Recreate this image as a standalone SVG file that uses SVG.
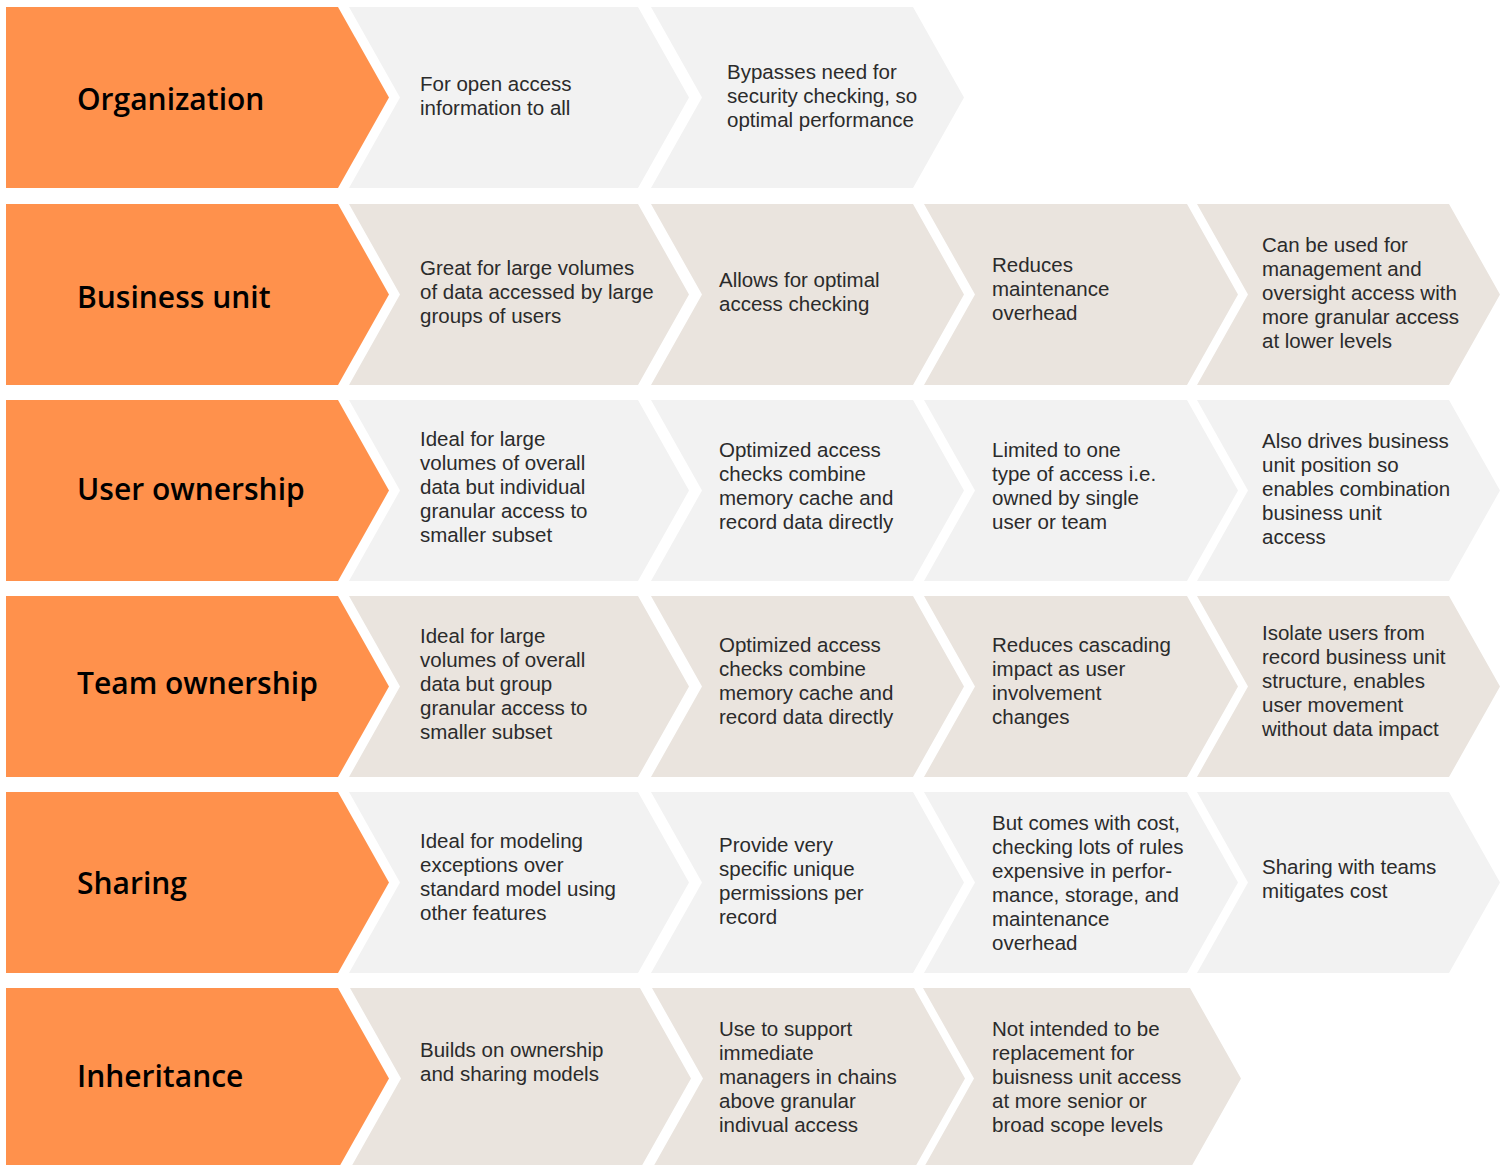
<svg xmlns="http://www.w3.org/2000/svg" width="1504" height="1165" viewBox="0 0 1504 1165">
<style>
.bg{fill:#ffffff}
.org{fill:#FF914C}
.lt{fill:#F2F2F2}
.bz{fill:#EAE4DE}
.lab{font-family:"Open Sans","Noto Sans",sans-serif;font-size:30px;font-weight:600;fill:#000}
.txt{font-family:"Liberation Sans",Arial,sans-serif;font-size:20.5px;fill:#2b2b2b}
</style>
<rect class="bg" x="0" y="0" width="1504" height="1165"/>

<!-- Row 1: Organization -->
<g id="organization"><polygon class="org" points="6,7 338,7 389,97.5 338,188 6,188"/><text class="lab" x="77" y="110">Organization</text></g>
<g id="organization-1"><polygon class="lt" points="349,7 638,7 689,97.5 638,188 349,188 400,97.5"/><text class="txt" y="91"><tspan x="420">For open access</tspan><tspan x="420" dy="24">information to all</tspan></text></g>
<g id="organization-2"><polygon class="lt" points="651,7 913,7 964,97.5 913,188 651,188 702,97.5"/><text class="txt" y="79"><tspan x="727">Bypasses need for</tspan><tspan x="727" dy="24">security checking, so</tspan><tspan x="727" dy="24">optimal performance</tspan></text></g>

<!-- Row 2: Business unit -->
<g id="business-unit"><polygon class="org" points="6,204 338,204 389,294.5 338,385 6,385"/><text class="lab" x="77" y="308">Business unit</text></g>
<g id="business-unit-1"><polygon class="bz" points="349,204 638,204 689,294.5 638,385 349,385 400,294.5"/><text class="txt" y="275"><tspan x="420">Great for large volumes</tspan><tspan x="420" dy="24">of data accessed by large</tspan><tspan x="420" dy="24">groups of users</tspan></text></g>
<g id="business-unit-2"><polygon class="bz" points="651,204 913,204 964,294.5 913,385 651,385 702,294.5"/><text class="txt" y="287"><tspan x="719">Allows for optimal</tspan><tspan x="719" dy="24">access checking</tspan></text></g>
<g id="business-unit-3"><polygon class="bz" points="924,204 1187,204 1238,294.5 1187,385 924,385 975,294.5"/><text class="txt" y="272"><tspan x="992">Reduces</tspan><tspan x="992" dy="24">maintenance</tspan><tspan x="992" dy="24">overhead</tspan></text></g>
<g id="business-unit-4"><polygon class="bz" points="1197,204 1449,204 1500,294.5 1449,385 1197,385 1248,294.5"/><text class="txt" y="252"><tspan x="1262">Can be used for</tspan><tspan x="1262" dy="24">management and</tspan><tspan x="1262" dy="24">oversight access with</tspan><tspan x="1262" dy="24">more granular access</tspan><tspan x="1262" dy="24">at lower levels</tspan></text></g>

<!-- Row 3: User ownership -->
<g id="user-ownership"><polygon class="org" points="6,400 338,400 389,490.5 338,581 6,581"/><text class="lab" x="77" y="500">User ownership</text></g>
<g id="user-ownership-1"><polygon class="lt" points="349,400 638,400 689,490.5 638,581 349,581 400,490.5"/><text class="txt" y="446"><tspan x="420">Ideal for large</tspan><tspan x="420" dy="24">volumes of overall</tspan><tspan x="420" dy="24">data but individual</tspan><tspan x="420" dy="24">granular access to</tspan><tspan x="420" dy="24">smaller subset</tspan></text></g>
<g id="user-ownership-2"><polygon class="lt" points="651,400 913,400 964,490.5 913,581 651,581 702,490.5"/><text class="txt" y="457"><tspan x="719">Optimized access</tspan><tspan x="719" dy="24">checks combine</tspan><tspan x="719" dy="24">memory cache and</tspan><tspan x="719" dy="24">record data directly</tspan></text></g>
<g id="user-ownership-3"><polygon class="lt" points="924,400 1187,400 1238,490.5 1187,581 924,581 975,490.5"/><text class="txt" y="457"><tspan x="992">Limited to one</tspan><tspan x="992" dy="24">type of access i.e.</tspan><tspan x="992" dy="24">owned by single</tspan><tspan x="992" dy="24">user or team</tspan></text></g>
<g id="user-ownership-4"><polygon class="lt" points="1197,400 1449,400 1500,490.5 1449,581 1197,581 1248,490.5"/><text class="txt" y="448"><tspan x="1262">Also drives business</tspan><tspan x="1262" dy="24">unit position so</tspan><tspan x="1262" dy="24">enables combination</tspan><tspan x="1262" dy="24">business unit</tspan><tspan x="1262" dy="24">access</tspan></text></g>

<!-- Row 4: Team ownership -->
<g id="team-ownership"><polygon class="org" points="6,596 338,596 389,686.5 338,777 6,777"/><text class="lab" x="77" y="694">Team ownership</text></g>
<g id="team-ownership-1"><polygon class="bz" points="349,596 638,596 689,686.5 638,777 349,777 400,686.5"/><text class="txt" y="643"><tspan x="420">Ideal for large</tspan><tspan x="420" dy="24">volumes of overall</tspan><tspan x="420" dy="24">data but group</tspan><tspan x="420" dy="24">granular access to</tspan><tspan x="420" dy="24">smaller subset</tspan></text></g>
<g id="team-ownership-2"><polygon class="bz" points="651,596 913,596 964,686.5 913,777 651,777 702,686.5"/><text class="txt" y="652"><tspan x="719">Optimized access</tspan><tspan x="719" dy="24">checks combine</tspan><tspan x="719" dy="24">memory cache and</tspan><tspan x="719" dy="24">record data directly</tspan></text></g>
<g id="team-ownership-3"><polygon class="bz" points="924,596 1187,596 1238,686.5 1187,777 924,777 975,686.5"/><text class="txt" y="652"><tspan x="992">Reduces cascading</tspan><tspan x="992" dy="24">impact as user</tspan><tspan x="992" dy="24">involvement</tspan><tspan x="992" dy="24">changes</tspan></text></g>
<g id="team-ownership-4"><polygon class="bz" points="1197,596 1449,596 1500,686.5 1449,777 1197,777 1248,686.5"/><text class="txt" y="640"><tspan x="1262">Isolate users from</tspan><tspan x="1262" dy="24">record business unit</tspan><tspan x="1262" dy="24">structure, enables</tspan><tspan x="1262" dy="24">user movement</tspan><tspan x="1262" dy="24">without data impact</tspan></text></g>

<!-- Row 5: Sharing -->
<g id="sharing"><polygon class="org" points="6,792 338,792 389,882.5 338,973 6,973"/><text class="lab" x="77" y="894">Sharing</text></g>
<g id="sharing-1"><polygon class="lt" points="349,792 638,792 689,882.5 638,973 349,973 400,882.5"/><text class="txt" y="848"><tspan x="420">Ideal for modeling</tspan><tspan x="420" dy="24">exceptions over</tspan><tspan x="420" dy="24">standard model using</tspan><tspan x="420" dy="24">other features</tspan></text></g>
<g id="sharing-2"><polygon class="lt" points="651,792 913,792 964,882.5 913,973 651,973 702,882.5"/><text class="txt" y="852"><tspan x="719">Provide very</tspan><tspan x="719" dy="24">specific unique</tspan><tspan x="719" dy="24">permissions per</tspan><tspan x="719" dy="24">record</tspan></text></g>
<g id="sharing-3"><polygon class="lt" points="924,792 1187,792 1238,882.5 1187,973 924,973 975,882.5"/><text class="txt" y="830"><tspan x="992">But comes with cost,</tspan><tspan x="992" dy="24">checking lots of rules</tspan><tspan x="992" dy="24">expensive in perfor-</tspan><tspan x="992" dy="24">mance, storage, and</tspan><tspan x="992" dy="24">maintenance</tspan><tspan x="992" dy="24">overhead</tspan></text></g>
<g id="sharing-4"><polygon class="lt" points="1197,792 1449,792 1500,882.5 1449,973 1197,973 1248,882.5"/><text class="txt" y="874"><tspan x="1262">Sharing with teams</tspan><tspan x="1262" dy="24">mitigates cost</tspan></text></g>

<!-- Row 6: Inheritance -->
<g id="inheritance"><polygon class="org" points="6,988 338,988 389,1078.5 338,1169 6,1169"/><text class="lab" x="77" y="1087">Inheritance</text></g>
<g id="inheritance-1"><polygon class="bz" points="350,988 640,988 691,1078.5 640,1169 350,1169 401,1078.5"/><text class="txt" y="1057"><tspan x="420">Builds on ownership</tspan><tspan x="420" dy="24">and sharing models</tspan></text></g>
<g id="inheritance-2"><polygon class="bz" points="652,988 914,988 965,1078.5 914,1169 652,1169 703,1078.5"/><text class="txt" y="1036"><tspan x="719">Use to support</tspan><tspan x="719" dy="24">immediate</tspan><tspan x="719" dy="24">managers in chains</tspan><tspan x="719" dy="24">above granular</tspan><tspan x="719" dy="24">indivual access</tspan></text></g>
<g id="inheritance-3"><polygon class="bz" points="923,988 1190,988 1241,1078.5 1190,1169 923,1169 974,1078.5"/><text class="txt" y="1036"><tspan x="992">Not intended to be</tspan><tspan x="992" dy="24">replacement for</tspan><tspan x="992" dy="24">buisness unit access</tspan><tspan x="992" dy="24">at more senior or</tspan><tspan x="992" dy="24">broad scope levels</tspan></text></g>

<g id="connectors"/>
</svg>
